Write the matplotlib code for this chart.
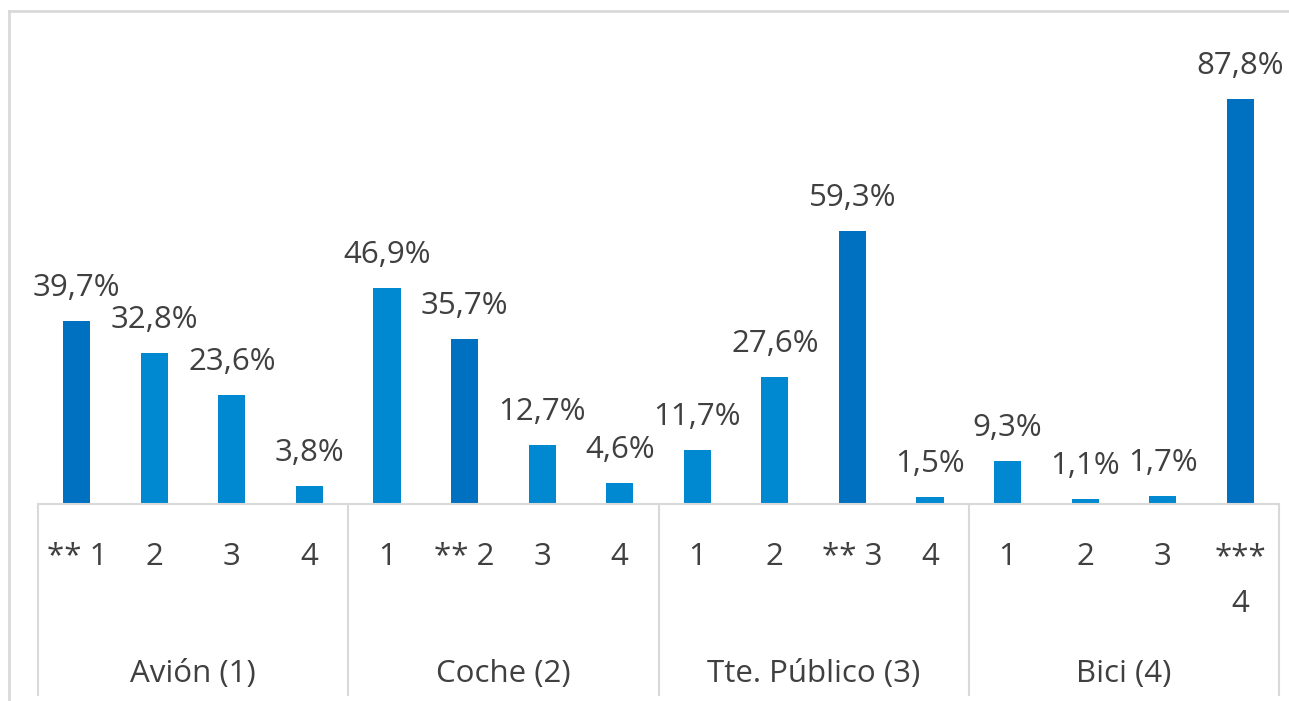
import matplotlib

matplotlib.use("Agg")

import matplotlib.pyplot as plt
import numpy as np
from matplotlib.lines import Line2D
from matplotlib.transforms import blended_transform_factory

# data
groups = ["Avión (1)", "Coche (2)", "Tte. Público (3)", "Bici (4)"]
sub_labels = [
    ["** 1", "2", "3", "4"],
    ["1", "** 2", "3", "4"],
    ["1", "2", "** 3", "4"],
    ["1", "2", "3", "***\n4"],
]
values = [
    [39.7, 32.8, 23.6, 3.8],
    [46.9, 35.7, 12.7, 4.6],
    [11.7, 27.6, 59.3, 1.5],
    [9.3, 1.1, 1.7, 87.8],
]

DARK = "#0070C0"
LIGHT = "#0088D1"
TEXT = "#404040"
GRID = "#D9D9D9"
FONT = ["Open Sans", "DejaVu Sans"]
FS = 22.5

W, H = 1289, 701
fig = plt.figure(figsize=(W / 100, H / 100), dpi=100)
ax = fig.add_axes([38 / W, 1 - 504 / H, (1279 - 38) / W, 461 / H])

labels = [lab for grp in sub_labels for lab in grp]
vals = [v for grp in values for v in grp]
x = np.arange(len(vals))
colors = [DARK if "*" in lab else LIGHT for lab in labels]

bars = ax.bar(x, vals, width=0.35, color=colors, zorder=2)
for b, v in zip(bars, vals):
    ax.annotate(f"{v:.1f}%".replace(".", ","), (b.get_x() + b.get_width() / 2, v),
                xytext=(0, 18), textcoords="offset points", ha="center", va="baseline",
                fontsize=FS, color=TEXT, family=FONT)

ax.set_xlim(-0.5, len(vals) - 0.5)
ax.set_ylim(0, 100)
for s in ["top", "right", "left"]:
    ax.spines[s].set_visible(False)
ax.spines["bottom"].set_color(GRID)
ax.spines["bottom"].set_linewidth(1.5)
ax.set_xticks([])
ax.set_yticks([])

trans = blended_transform_factory(ax.transData, ax.transAxes)
px = 1.0 / 461  # one pixel in axes fraction (vertical)
for xi, lab in zip(x, labels):
    lines = lab.split("\n")
    for li, line in enumerate(lines):
        ax.text(xi, -(61 + 47 * li) * px, line, transform=trans, ha="center",
                va="baseline", fontsize=FS, color=TEXT, family=FONT)

n = len(sub_labels[0])
for gi, g in enumerate(groups):
    cx = gi * n + (n - 1) / 2
    ax.text(cx, -178 * px, g, transform=trans, ha="center", va="baseline",
            fontsize=FS, color=TEXT, family=FONT)

for k in range(len(groups) + 1):
    xs = k * n - 0.5
    ax.plot([xs, xs], [0, -191 * px], transform=trans, color=GRID, lw=1.5,
            clip_on=False, zorder=1)

# outer chart frame
fig.add_artist(Line2D([9 / W, 9 / W], [0, 1 - 11 / H], color=GRID, lw=2))
fig.add_artist(Line2D([9 / W, 1], [1 - 11 / H, 1 - 11 / H], color=GRID, lw=2))

fig.savefig("out.png", dpi=100)
